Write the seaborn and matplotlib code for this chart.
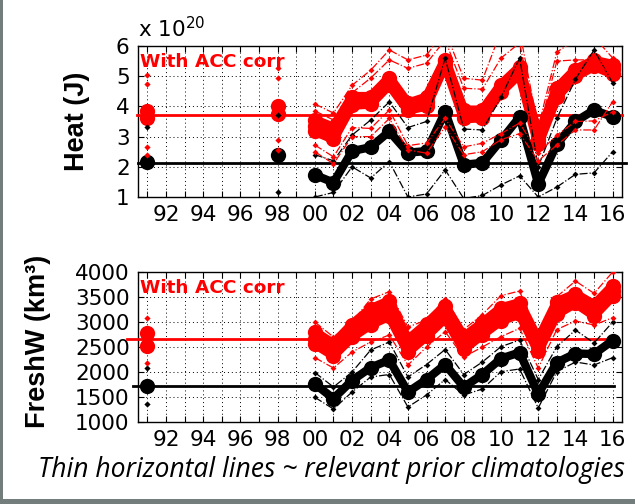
import numpy as np
import pandas as pd
import matplotlib
matplotlib.use("Agg")
import matplotlib.pyplot as plt
from matplotlib.patches import Rectangle
import seaborn as sns

# ---------------- data ----------------
years = list(range(2000, 2017))
early_heat_years = [1991, 1998]
early_fw_years = [1991]

# Heat (x 1e20 J)
heat_black_main = [1.73, 1.48, 2.52, 2.65, 3.17, 2.47, 2.52, 3.82, 2.07, 2.13, 2.88, 3.65, 1.43, 2.75, 3.50, 3.88, 3.65]
heat_black_up = [2.40, 2.20, 3.05, 3.55, 4.15, 3.30, 3.50, 5.60, 3.25, 3.22, 4.30, 5.60, 2.00, 3.60, 4.90, 5.87, 4.77]
heat_black_lo = [1.00, 1.15, 2.00, 1.63, 2.17, 1.00, 1.10, 1.90, 0.95, 1.05, 1.40, 1.70, 1.00, 1.33, 1.75, 1.80, 2.50]
heat_red_main = [3.35, 3.10, 4.20, 4.20, 4.85, 4.00, 4.15, 5.50, 3.75, 3.75, 4.60, 5.20, 2.90, 4.45, 5.12, 5.45, 5.25]
heat_red_hi = [3.55, 3.30, 4.32, 4.32, 4.95, 4.10, 4.30, 5.55, 3.87, 3.87, 4.72, 5.30, 3.02, 4.60, 5.22, 5.52, 5.38]
heat_red_lo = [3.18, 2.92, 4.05, 4.08, 4.72, 3.88, 4.02, 5.40, 3.60, 3.63, 4.48, 5.08, 2.75, 4.32, 5.00, 5.33, 5.08]
heat_red_t1 = [4.08, 3.78, 4.70, 5.20, 5.87, 5.54, 5.70, 6.50, 4.93, 4.87, 6.50, 6.50, 3.30, 5.80, 6.20, 6.30, 5.60]
heat_red_t2 = [3.85, 3.55, 4.45, 4.94, 5.54, 5.26, 5.43, 6.20, 4.60, 4.57, 5.60, 6.10, 3.10, 5.50, 5.54, 5.54, 5.00]
heat_red_t3 = [2.72, 2.33, 3.30, 3.27, 3.88, 2.70, 2.79, 3.60, 2.66, 2.78, 3.10, 3.45, 2.45, 3.05, 3.50, 3.52, 3.82]
heat_red_t4 = [2.50, 2.10, 3.00, 3.00, 3.60, 2.56, 2.45, 3.33, 2.40, 2.50, 2.90, 3.10, 2.20, 2.72, 3.22, 3.22, 4.16]

heat_early_black = [2.17, 2.38]
heat_early_red_a = [3.85, 4.02]
heat_early_red_b = [3.62, 3.75]
heat_early_black_thin = [[3.33, 2.10], [3.70, 1.18]]
heat_early_red_thin = [[5.04, 4.74, 2.67, 2.39], [5.26, 4.95, 2.89, 2.56]]

heat_clim_red = 3.72
heat_clim_black = 2.13
heat_clim_red_span = [1990.45, 2016.5]
heat_clim_black_span = [1990.5, 2016.7]

# Freshwater (km^3)
fw_black_main = [1760, 1470, 1830, 2090, 2240, 1600, 1850, 2150, 1700, 1950, 2270, 2390, 1560, 2190, 2370, 2360, 2630]
fw_black_up = [1990, 1700, 2000, 2440, 2600, 1900, 2150, 2450, 1950, 2200, 2507, 2640, 1850, 2507, 2840, 2580, 3000]
fw_black_lo = [1493, 1260, 1600, 1900, 1950, 1300, 1540, 1850, 1540, 1660, 2007, 2060, 1280, 2007, 2200, 2140, 2287]
fw_red_main = [2670, 2440, 2810, 3100, 3300, 2510, 2840, 3200, 2570, 2870, 3150, 3270, 2520, 3280, 3480, 3230, 3620]
fw_red_hi = [2800, 2560, 2950, 3260, 3420, 2640, 2960, 3320, 2700, 2980, 3280, 3380, 2640, 3400, 3560, 3340, 3720]
fw_red_lo = [2560, 2330, 2700, 2950, 3120, 2400, 2720, 3080, 2460, 2750, 3030, 3160, 2420, 3160, 3380, 3130, 3520]
fw_red_up = [3000, 2700, 3000, 3460, 3607, 2900, 3040, 3460, 2850, 3150, 3527, 3620, 2700, 3507, 3820, 3573, 4000]
fw_red_low = [2287, 2080, 2400, 2600, 2740, 2140, 2500, 2807, 2300, 2500, 2707, 2873, 2080, 2850, 3020, 2940, 3087]

fw_early_black = [1720]
fw_early_red_a = [2780]
fw_early_red_b = [2520]
fw_early_black_thin = [[2087, 1353]]
fw_early_red_thin = [[3073, 2173]]

fw_clim_red = 2660
fw_clim_black = 1720
fw_clim_red_span = [1989.9, 2015.6]
fw_clim_black_span = [1990.25, 2016.07]

tick_years = list(range(1991, 2017))
tick_labels = [f"{y % 100:02d}" if y % 2 == 0 else "" for y in tick_years]
heat_yticks = [1, 2, 3, 4, 5, 6]
fw_yticks = [1000, 1500, 2000, 2500, 3000, 3500, 4000]

# ---------------- styling ----------------
RED = "#ff0000"
BLK = "#000000"
TICK_FONT = "DejaVu Sans"

fig = plt.figure(figsize=(6.35, 5.04), dpi=100)
fig.patch.set_facecolor("#737d7b")
fig.add_artist(Rectangle((3 / 635, 5 / 504), 1 - 3 / 635, 1 - 5 / 504,
                         transform=fig.transFigure, facecolor="white",
                         edgecolor="none", zorder=-10))

ax1 = fig.add_axes([138 / 635, 1 - 197 / 504, 484 / 635, 151 / 504])
ax2 = fig.add_axes([138 / 635, 1 - 422 / 504, 484 / 635, 150 / 504])


def thick(ax, x, y, color, z, lw=6):
    sns.lineplot(x=x, y=y, ax=ax, color=color, linewidth=lw, marker="o",
                 markersize=11, markeredgewidth=0, sort=False,
                 errorbar=None, zorder=z, legend=False)


def thin(ax, x, y, color, z):
    sns.lineplot(x=x, y=y, ax=ax, color=color, linewidth=0.9, linestyle="-.",
                 marker="D", markersize=3, markeredgewidth=0, sort=False,
                 errorbar=None, zorder=z, legend=False)


def dots(ax, x, y, color, size, marker, z):
    sns.scatterplot(x=x, y=y, ax=ax, color=color, s=size, marker=marker,
                    linewidth=0, zorder=z, legend=False)


def panel(ax, early_years, black_main, red_bands, black_thins, red_thins,
          early_black, early_red, early_black_thin, early_red_thin,
          clim_red, clim_black, span_red, span_black):
    for rb in red_bands:
        thick(ax, years, rb, RED, 3, lw=7)
    thick(ax, years, black_main, BLK, 4)
    for bt in black_thins:
        thin(ax, years, bt, BLK, 5)
    for rt in red_thins:
        thin(ax, years, rt, RED, 6)
    for er in early_red:
        dots(ax, early_years, er, RED, 121, "o", 3)
    dots(ax, early_years, early_black, BLK, 121, "o", 4)
    for i, yr in enumerate(early_years):
        dots(ax, [yr] * len(early_black_thin[i]), early_black_thin[i], BLK, 10, "D", 5)
        dots(ax, [yr] * len(early_red_thin[i]), early_red_thin[i], RED, 10, "D", 6)
    ax.plot(span_red, [clim_red, clim_red], color=RED, linewidth=2, zorder=3.5, clip_on=False)
    ax.plot(span_black, [clim_black, clim_black], color=BLK, linewidth=2, zorder=4.5, clip_on=False)


panel(ax1, early_heat_years, heat_black_main,
      [heat_red_hi, heat_red_lo, heat_red_main],
      [heat_black_up, heat_black_lo],
      [heat_red_t1, heat_red_t2, heat_red_t3, heat_red_t4],
      heat_early_black, [heat_early_red_a, heat_early_red_b],
      heat_early_black_thin, heat_early_red_thin,
      heat_clim_red, heat_clim_black, heat_clim_red_span, heat_clim_black_span)

panel(ax2, early_fw_years, fw_black_main,
      [fw_red_hi, fw_red_lo, fw_red_main],
      [fw_black_up, fw_black_lo],
      [fw_red_up, fw_red_low],
      fw_early_black, [fw_early_red_a, fw_early_red_b],
      fw_early_black_thin, fw_early_red_thin,
      fw_clim_red, fw_clim_black, fw_clim_red_span, fw_clim_black_span)

for ax, yt, ylim in [(ax1, heat_yticks, (1, 6)), (ax2, fw_yticks, (1000, 4000))]:
    ax.set_facecolor("white")
    ax.set_xlim(1990.5, 2016.5)
    ax.set_ylim(*ylim)
    ax.set_xticks(tick_years)
    ax.set_xticklabels(tick_labels)
    ax.set_yticks(yt)
    ax.set_yticklabels([str(v) for v in yt])
    ax.tick_params(direction="in", top=True, right=True, length=4, width=0.8,
                   labelsize=15.5, pad=6, colors="black")
    for lab in ax.get_xticklabels() + ax.get_yticklabels():
        lab.set_fontfamily(TICK_FONT)
    ax.grid(True, linestyle=(0, (1, 3)), color="black", linewidth=0.7)
    ax.set_axisbelow(True)
    for s in ax.spines.values():
        s.set_color("black")
        s.set_linewidth(1.0)
    ax.set_xlabel("")
    ax.text(0.005, 0.955, "With ACC corr", transform=ax.transAxes, color=RED,
            fontsize=13.3, fontweight="bold", family="DejaVu Sans",
            va="top", ha="left", zorder=10)

ax1.set_ylabel("Heat (J)", fontsize=19.5, fontweight="bold",
               family="Liberation Sans", va="center")
ax1.yaxis.set_label_coords(-0.125, 0.5)
ax2.set_ylabel("FreshW (km\u00b3)", fontsize=19.5, fontweight="bold",
               family="Liberation Sans", va="center")
ax2.yaxis.set_label_coords(-0.207, 0.54)

fig.text(138 / 635, 1 - 37 / 504, r"x 10$^{20}$", fontsize=15.5,
         family=TICK_FONT, ha="left", va="baseline")

fig.text(38 / 635, 1 - 477 / 504,
         "Thin horizontal lines ~ relevant prior climatologies",
         fontsize=19.1, style="italic", family="Open Sans", ha="left", va="baseline")

fig.savefig("out.png", dpi=100, facecolor=fig.get_facecolor())
